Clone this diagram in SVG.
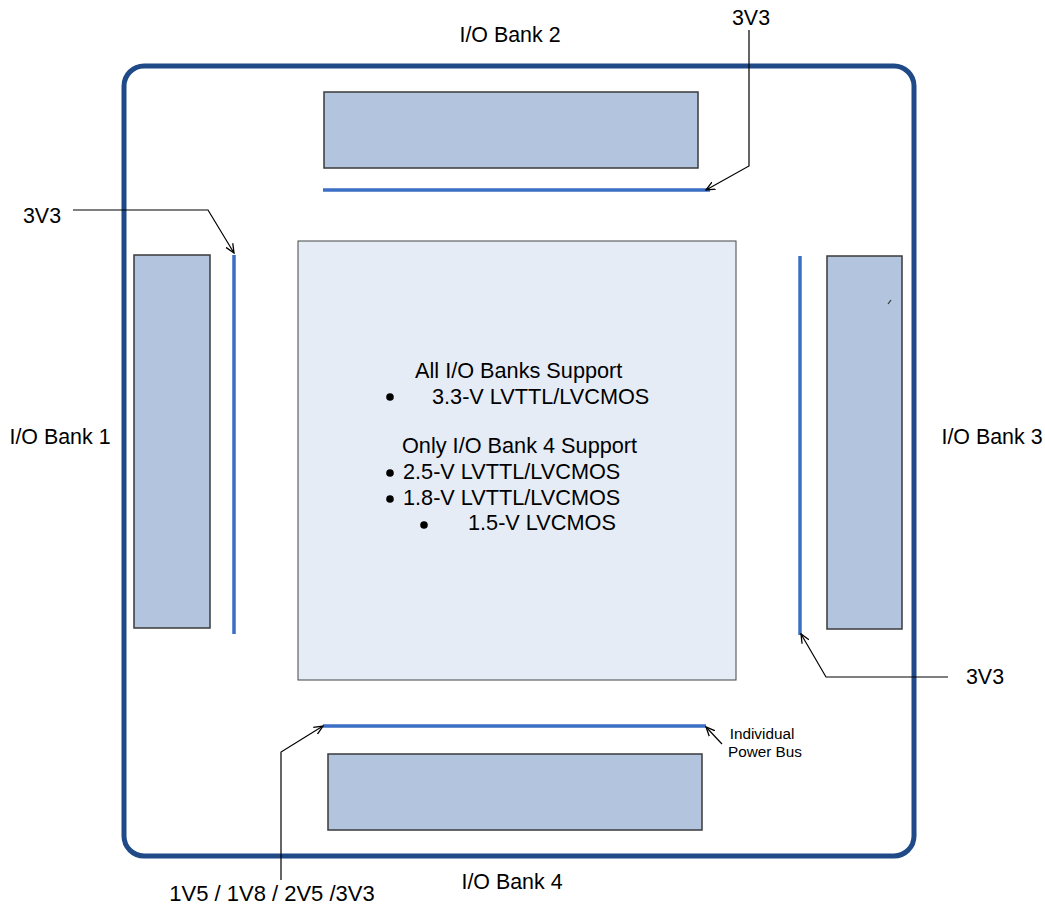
<svg xmlns="http://www.w3.org/2000/svg" width="1045" height="906" viewBox="0 0 1045 906">
<style>
.t{font-family:"Liberation Sans",Arial,sans-serif;font-size:21.4px;fill:#000}
.c{font-family:"Liberation Sans",Arial,sans-serif;font-size:21.7px;fill:#000}
.s{font-family:"Liberation Sans",Arial,sans-serif;font-size:15.3px;fill:#000}
.bank{fill:#b3c5de;stroke:#3a3a3a;stroke-width:1.5}
.bus{stroke:#3a6fc4;stroke-width:3.5;fill:none}
.lead{stroke:#000;stroke-width:1.2;fill:none;marker-end:url(#ah)}
</style>
<defs>
<marker id="ah" viewBox="0 0 10 10" refX="9" refY="5" markerWidth="10" markerHeight="10" markerUnits="userSpaceOnUse" orient="auto">
<path d="M0,1 L9,5 L0,9" fill="none" stroke="#000" stroke-width="1.3"/>
</marker>
</defs>
<rect width="1045" height="906" fill="#fff"/>
<g id="chip">
<rect x="124" y="66" width="790" height="790" rx="20" fill="none" stroke="#1f4a87" stroke-width="5"/>
</g>
<g id="core">
<rect x="298" y="241" width="438" height="439" fill="#e6ecf6" stroke="#444" stroke-width="1"/>
<text class="c" x="415" y="378">All I/O Banks Support</text>
<circle cx="390" cy="397" r="3.8" fill="#000"/>
<text class="c" x="432" y="404">3.3-V LVTTL/LVCMOS</text>
<text class="c" x="402" y="453">Only I/O Bank 4 Support</text>
<circle cx="390" cy="473" r="3.8" fill="#000"/>
<text class="c" x="403" y="479">2.5-V LVTTL/LVCMOS</text>
<circle cx="390" cy="499" r="3.8" fill="#000"/>
<text class="c" x="403" y="505">1.8-V LVTTL/LVCMOS</text>
<circle cx="424" cy="525" r="3.8" fill="#000"/>
<text class="c" x="468" y="530">1.5-V LVCMOS</text>
</g>
<g id="bank2">
<rect class="bank" x="324" y="92" width="374" height="76"/>
<text class="t" x="510" y="42" text-anchor="middle">I/O Bank 2</text>
</g>
<g id="bank1">
<rect class="bank" x="134" y="255" width="76" height="373"/>
<text class="t" x="60" y="444" text-anchor="middle">I/O Bank 1</text>
</g>
<g id="bank3">
<rect class="bank" x="827" y="256" width="75" height="373"/>
<line x1="891" y1="300" x2="888" y2="304" stroke="#333" stroke-width="1.2"/>
<text class="t" x="992" y="444" text-anchor="middle">I/O Bank 3</text>
</g>
<g id="bank4">
<rect class="bank" x="328" y="754" width="374" height="76"/>
<text class="t" x="512" y="889" text-anchor="middle">I/O Bank 4</text>
</g>
<g id="buses">
<line class="bus" x1="323" y1="190" x2="710" y2="190"/>
<line class="bus" x1="234" y1="255" x2="234" y2="634"/>
<line class="bus" x1="800" y1="256" x2="800" y2="635"/>
<line class="bus" x1="323" y1="726" x2="706" y2="726"/>
</g>
<g id="labels">
<text class="t" x="751" y="25" text-anchor="middle">3V3</text>
<text class="t" x="42" y="223" text-anchor="middle">3V3</text>
<text class="t" x="985" y="684" text-anchor="middle">3V3</text>
<text class="t" x="272" y="901" text-anchor="middle" style="font-size:22px">1V5 / 1V8 / 2V5 /3V3</text>
<text class="s" x="762" y="739" text-anchor="middle">Individual</text>
<text class="s" x="765" y="757" text-anchor="middle">Power Bus</text>
</g>
<g id="connectors">
<polyline class="lead" points="749,30 749,166 706,190"/>
<polyline class="lead" points="73,210 208,210 234,253"/>
<polyline class="lead" points="948,677 826,677 801,634"/>
<polyline class="lead" points="281,880 281,752 323,726"/>
<polyline class="lead" points="722,744 706,727"/>
</g>
</svg>
